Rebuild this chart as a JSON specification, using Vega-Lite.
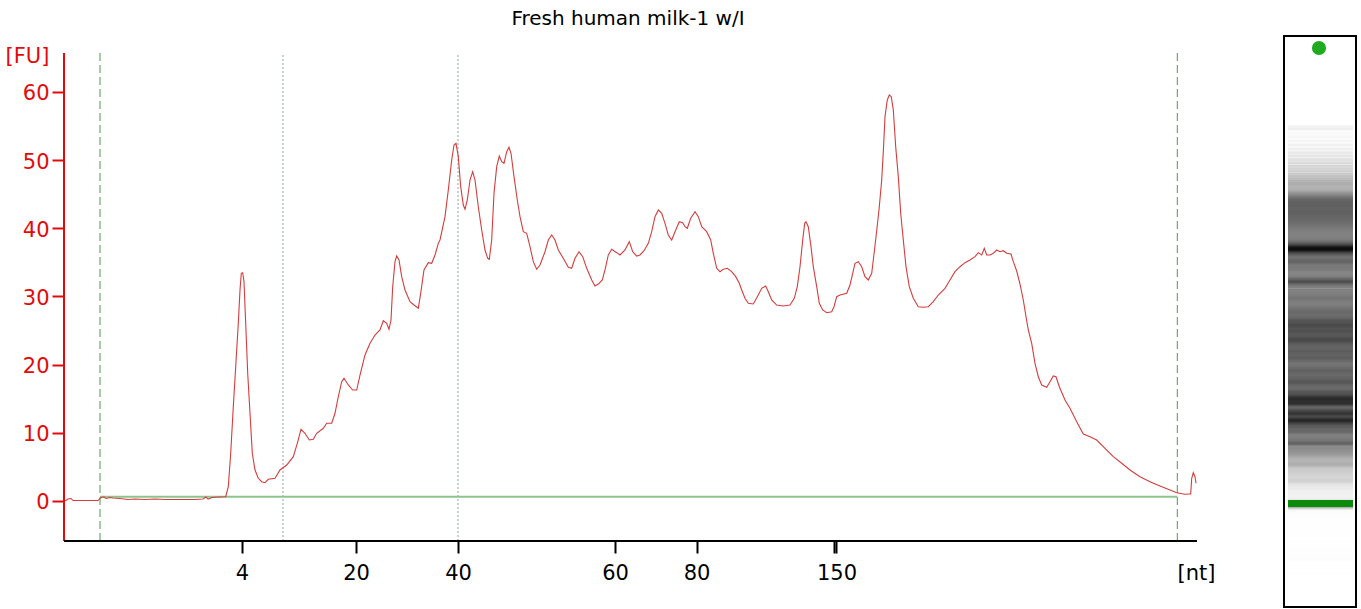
{
  "$schema": "https://vega.github.io/schema/vega-lite/v6.json",
  "padding": {"left": 5, "top": 9, "right": 4, "bottom": 1},
  "background": "white",
  "config": {"view": {"stroke": null}, "font": "DejaVu Sans"},
  "spacing": 87,
  "bounds": "flush",
  "datasets": {
    "trace": [
      {"t":0,"fu":0.07},{"t":2,"fu":0.07},{"t":4,"fu":0.29},{"t":7,"fu":0.37},{"t":9,"fu":0.07},{"t":21,"fu":0.07},{"t":34,"fu":0.07},{"t":37,"fu":0.51},{"t":40,"fu":0.59},{"t":42,"fu":0.37},{"t":46,"fu":0.51},{"t":49,"fu":0.44},{"t":56,"fu":0.37},{"t":64,"fu":0.22},{"t":71,"fu":0.29},{"t":81,"fu":0.22},{"t":91,"fu":0.29},{"t":101,"fu":0.22},{"t":111,"fu":0.22},{"t":121,"fu":0.22},{"t":131,"fu":0.22},{"t":139,"fu":0.29},{"t":142,"fu":0.59},{"t":144,"fu":0.29},{"t":148,"fu":0.51},{"t":156,"fu":0.59},{"t":161.7,"fu":0.63},
      {"t":164.3,"fu":2.10},{"t":166.7,"fu":7.00},{"t":169.3,"fu":13.83},{"t":171.7,"fu":19.70},{"t":174.3,"fu":26.07},{"t":176,"fu":30.95},{"t":177.3,"fu":33.40},{"t":178.7,"fu":33.49},{"t":180,"fu":32.17},{"t":181.7,"fu":26.07},{"t":183.7,"fu":18.73},{"t":186,"fu":12.87},{"t":188.3,"fu":7.00},{"t":191,"fu":4.55},{"t":194.3,"fu":3.33},{"t":197.7,"fu":2.83},{"t":201,"fu":2.68},{"t":204.3,"fu":3.18},{"t":211,"fu":3.33},{"t":216,"fu":4.55},{"t":222.7,"fu":5.28},{"t":229.3,"fu":6.50},{"t":233.3,"fu":8.46},{"t":237,"fu":10.52},{"t":241,"fu":9.93},{"t":245.3,"fu":8.95},{"t":249.3,"fu":9.05},{"t":252.7,"fu":9.93},{"t":259.3,"fu":10.67},{"t":262.7,"fu":11.40},{"t":267.7,"fu":11.40},{"t":271,"fu":12.87},{"t":274.3,"fu":15.30},{"t":277.7,"fu":17.50},{"t":280,"fu":18.00},{"t":284.3,"fu":17.02},{"t":288.7,"fu":16.28},{"t":292.7,"fu":16.28},{"t":296,"fu":18.48},{"t":301,"fu":21.42},{"t":306,"fu":23.13},{"t":311,"fu":24.35},{"t":316,"fu":25.09},{"t":319.3,"fu":26.45},{"t":322.7,"fu":26.07},{"t":325,"fu":25.19},{"t":327,"fu":26.55},{"t":328.7,"fu":31.44},{"t":331,"fu":35.11},{"t":332.7,"fu":35.94},{"t":335,"fu":35.35},{"t":337.7,"fu":32.91},{"t":341,"fu":30.95},{"t":346,"fu":29.24},{"t":350,"fu":28.75},{"t":354.3,"fu":28.27},{"t":356.7,"fu":30.47},{"t":360,"fu":33.89},{"t":364.3,"fu":34.96},{"t":367.7,"fu":34.87},{"t":371,"fu":36.09},{"t":374.3,"fu":37.80},{"t":376,"fu":38.29},{"t":381,"fu":41.71},{"t":384.3,"fu":45.62},{"t":387.7,"fu":50.02},{"t":390,"fu":52.22},{"t":392,"fu":52.47},{"t":394.3,"fu":50.51},{"t":396.7,"fu":46.11},{"t":399.3,"fu":43.42},{"t":401,"fu":42.79},{"t":403.3,"fu":44.16},{"t":406,"fu":47.09},{"t":408.7,"fu":48.31},{"t":411,"fu":47.09},{"t":414.3,"fu":43.17},{"t":417.7,"fu":39.76},{"t":421,"fu":36.82},{"t":423.7,"fu":35.60},{"t":425.3,"fu":35.46},{"t":427.7,"fu":38.29},{"t":430,"fu":45.14},{"t":432.7,"fu":49.04},{"t":435.3,"fu":50.61},{"t":437.7,"fu":49.78},{"t":440,"fu":49.54},{"t":442.7,"fu":51.24},{"t":445,"fu":51.89},{"t":447,"fu":51.01},{"t":450,"fu":47.58},{"t":453.3,"fu":44.16},{"t":456,"fu":41.71},{"t":459.3,"fu":39.51},{"t":462.7,"fu":39.27},{"t":466,"fu":37.31},{"t":469.3,"fu":35.11},{"t":472.7,"fu":33.99},{"t":476,"fu":34.62},{"t":481,"fu":36.57},{"t":484.3,"fu":38.29},{"t":487.7,"fu":39.02},{"t":491,"fu":38.29},{"t":494.3,"fu":36.82},{"t":499.3,"fu":35.60},{"t":504.3,"fu":34.28},{"t":507.7,"fu":34.14},{"t":511,"fu":35.60},{"t":515,"fu":36.57},{"t":518.7,"fu":35.84},{"t":522.7,"fu":34.14},{"t":527.7,"fu":32.42},{"t":531,"fu":31.54},{"t":534.3,"fu":31.83},{"t":538.3,"fu":32.42},{"t":541,"fu":33.89},{"t":544.3,"fu":36.09},{"t":547.7,"fu":36.92},{"t":552.7,"fu":36.43},{"t":556,"fu":36.09},{"t":561,"fu":36.82},{"t":565.3,"fu":38.04},{"t":568.7,"fu":36.57},{"t":572.7,"fu":35.94},{"t":576,"fu":36.09},{"t":580,"fu":36.72},{"t":584.3,"fu":37.80},{"t":587.7,"fu":39.51},{"t":591,"fu":41.71},{"t":594.3,"fu":42.69},{"t":597.7,"fu":42.21},{"t":601,"fu":40.74},{"t":604.3,"fu":39.02},{"t":607.7,"fu":38.29},{"t":611,"fu":39.51},{"t":615.3,"fu":40.97},{"t":618.7,"fu":40.83},{"t":621,"fu":40.24},{"t":623.3,"fu":40.01},{"t":626.7,"fu":41.47},{"t":631,"fu":42.44},{"t":634.3,"fu":41.71},{"t":637.7,"fu":40.24},{"t":642.7,"fu":39.51},{"t":646.7,"fu":38.29},{"t":649.3,"fu":36.34},{"t":652.7,"fu":34.14},{"t":656,"fu":33.64},{"t":659.3,"fu":33.99},{"t":663.3,"fu":34.14},{"t":667.7,"fu":33.64},{"t":671.7,"fu":32.91},{"t":675.3,"fu":31.94},{"t":677.7,"fu":30.95},{"t":681,"fu":29.74},{"t":684.3,"fu":29.00},{"t":689.3,"fu":28.90},{"t":693.3,"fu":29.97},{"t":697.7,"fu":31.20},{"t":701.7,"fu":31.54},{"t":704.3,"fu":30.70},{"t":707.7,"fu":29.49},{"t":712.7,"fu":28.75},{"t":719.3,"fu":28.61},{"t":726,"fu":28.75},{"t":730.3,"fu":29.74},{"t":733.3,"fu":31.44},{"t":736,"fu":34.37},{"t":738.7,"fu":38.29},{"t":740.7,"fu":40.74},{"t":742,"fu":40.97},{"t":744.3,"fu":40.24},{"t":747,"fu":37.31},{"t":749.3,"fu":34.37},{"t":752.7,"fu":31.44},{"t":755.3,"fu":29.00},{"t":758.7,"fu":28.02},{"t":762.7,"fu":27.62},{"t":767.7,"fu":27.77},{"t":770,"fu":28.50},{"t":772.7,"fu":29.97},{"t":776,"fu":30.22},{"t":782.7,"fu":30.47},{"t":786,"fu":31.69},{"t":788.7,"fu":33.40},{"t":791,"fu":34.87},{"t":794.3,"fu":35.11},{"t":797.7,"fu":34.37},{"t":801,"fu":32.91},{"t":804.3,"fu":32.42},{"t":807.7,"fu":33.40},{"t":809.3,"fu":35.35},{"t":812,"fu":38.77},{"t":815,"fu":42.69},{"t":817.7,"fu":47.09},{"t":819.3,"fu":51.24},{"t":821,"fu":56.38},{"t":823.3,"fu":58.83},{"t":825.3,"fu":59.56},{"t":827.3,"fu":59.31},{"t":829.3,"fu":57.36},{"t":831.7,"fu":51.98},{"t":834.3,"fu":47.58},{"t":836.7,"fu":42.21},{"t":839.3,"fu":38.29},{"t":842,"fu":34.37},{"t":845.3,"fu":31.44},{"t":849.3,"fu":29.74},{"t":854.3,"fu":28.50},{"t":859.3,"fu":28.42},{"t":864.3,"fu":28.50},{"t":869.3,"fu":29.24},{"t":874.3,"fu":30.22},{"t":881,"fu":31.20},{"t":886,"fu":32.42},{"t":891,"fu":33.64},{"t":896,"fu":34.37},{"t":901,"fu":34.96},{"t":906,"fu":35.35},{"t":911,"fu":35.84},{"t":914.3,"fu":36.43},{"t":917.7,"fu":36.09},{"t":920.3,"fu":37.07},{"t":922.7,"fu":36.09},{"t":926,"fu":36.09},{"t":929.3,"fu":36.34},{"t":932.7,"fu":36.82},{"t":936,"fu":36.57},{"t":939.3,"fu":36.72},{"t":942.7,"fu":36.34},{"t":947,"fu":36.23},{"t":949.3,"fu":35.11},{"t":952.7,"fu":33.74},{"t":956,"fu":31.83},{"t":959.3,"fu":29.49},{"t":962,"fu":27.04},{"t":964.3,"fu":25.09},{"t":967.7,"fu":23.13},{"t":971,"fu":20.20},{"t":974.3,"fu":18.23},{"t":977.7,"fu":17.02},{"t":982.7,"fu":16.68},{"t":986,"fu":17.50},{"t":989.3,"fu":18.34},{"t":992,"fu":18.23},{"t":995.3,"fu":16.77},{"t":1001,"fu":14.82},{"t":1006,"fu":13.60},{"t":1012.7,"fu":11.63},{"t":1019.3,"fu":9.83},{"t":1026,"fu":9.43},{"t":1032.7,"fu":8.95},{"t":1041,"fu":7.73},{"t":1049.3,"fu":6.50},{"t":1057.7,"fu":5.53},{"t":1066,"fu":4.55},{"t":1076,"fu":3.56},{"t":1086,"fu":2.83},{"t":1096,"fu":2.20},{"t":1106,"fu":1.61},{"t":1112.7,"fu":1.22},{"t":1121,"fu":0.98},{"t":1125.3,"fu":1.03},{"t":1126.7,"fu":1.03},{"t":1127.7,"fu":3.33},{"t":1129.3,"fu":4.15},{"t":1131,"fu":3.56},{"t":1132,"fu":2.60}
    ]
  },
  "hconcat": [
    {
      "width": 1133,
      "height": 505,
      "title": {"text": "Fresh human milk-1 w/I", "font": "DejaVu Sans", "fontSize": 20, "fontWeight": "normal", "color": "#000000", "anchor": "middle", "dx": -2.5, "offset": 7},
      "layer": [
        {
          "data": {"values": [{}]},
          "mark": {"type": "rule", "color": "#8fa3a3", "strokeDash": [2, 2], "strokeWidth": 1},
          "encoding": {
            "x": {"datum": 219, "type": "quantitative"},
            "y": {"datum": -5.868, "type": "quantitative"},
            "y2": {"datum": 65.72}
          }
        },
        {
          "data": {"values": [{}]},
          "mark": {"type": "rule", "color": "#8fa3a3", "strokeDash": [2, 2], "strokeWidth": 1},
          "encoding": {
            "x": {"datum": 394, "type": "quantitative"},
            "y": {"datum": -5.868, "type": "quantitative"},
            "y2": {"datum": 65.72}
          }
        },
        {
          "data": {"values": [{}]},
          "mark": {"type": "rule", "color": "#4f9a4f", "strokeDash": [8, 4], "strokeWidth": 1},
          "encoding": {
            "x": {"datum": 36, "type": "quantitative"},
            "y": {"datum": -5.868, "type": "quantitative"},
            "y2": {"datum": 65.72}
          }
        },
        {
          "data": {"values": [{}]},
          "mark": {"type": "rule", "color": "#4f9a4f", "strokeDash": [8, 4], "strokeWidth": 1},
          "encoding": {
            "x": {"datum": 1113.3, "type": "quantitative"},
            "y": {"datum": -5.868, "type": "quantitative"},
            "y2": {"datum": 65.72}
          }
        },
        {
          "data": {"values": [{}]},
          "mark": {"type": "rule", "color": "#8cc48c", "strokeWidth": 2},
          "encoding": {
            "x": {"datum": 36, "type": "quantitative"},
            "x2": {"datum": 1113.3},
            "y": {"datum": 0.63, "type": "quantitative"}
          }
        },
        {
          "data": {"name": "trace"},
          "mark": {"type": "line", "color": "#d43d3d", "strokeWidth": 1.1, "interpolate": "linear"},
          "encoding": {
            "x": {
              "field": "t", "type": "quantitative",
              "scale": {"domain": [0, 1133], "nice": false, "zero": false},
              "axis": {
                "values": [178, 292, 394, 551, 632.5, 769.5, 772.5],
                "labelExpr": "datum.value == 178 ? '4' : datum.value == 292 ? '20' : datum.value == 394 ? '40' : datum.value == 551 ? '60' : datum.value == 632.5 ? '80' : datum.value == 772.5 ? '150' : ''",
                "domain": false, "grid": false,
                "tickColor": "#000000", "tickWidth": 2, "tickSize": 12,
                "labelColor": "#000000", "labelFont": "DejaVu Sans", "labelFontSize": 21, "labelPadding": 9,
                "labelOverlap": false, "labelFlush": false,
                "title": "[nt]", "titleX": 1132, "titleY": 21, "titleBaseline": "top", "titleAlign": "center",
                "titleFont": "DejaVu Sans", "titleFontSize": 21, "titleFontWeight": "normal", "titleColor": "#000000"
              }
            },
            "y": {
              "field": "fu", "type": "quantitative",
              "scale": {"domain": [-5.868, 68.215], "nice": false, "zero": false},
              "axis": {
                "values": [0, 10, 20, 30, 40, 50, 60],
                "grid": false, "domain": false,
                "tickColor": "#e30a0a", "tickWidth": 2, "tickSize": 12,
                "labelColor": "#e30a0a", "labelFont": "DejaVu Sans", "labelFontSize": 21, "labelPadding": 3, "labelOffset": 2,
                "title": "[FU]", "titleAngle": 0, "titleX": -37, "titleY": 20, "titleAlign": "center", "titleBaseline": "middle",
                "titleFont": "DejaVu Sans", "titleFontSize": 21, "titleFontWeight": "normal", "titleColor": "#e30a0a"
              }
            }
          }
        },
        {
          "data": {"values": [{}]},
          "mark": {"type": "rule", "color": "#e30a0a", "strokeWidth": 2},
          "encoding": {
            "x": {"datum": 0, "type": "quantitative"},
            "y": {"datum": -5.868, "type": "quantitative"},
            "y2": {"datum": 65.72}
          }
        },
        {
          "data": {"values": [{}]},
          "mark": {"type": "rule", "color": "#000000", "strokeWidth": 2},
          "encoding": {
            "x": {"datum": 0, "type": "quantitative"},
            "x2": {"datum": 1133},
            "y": {"datum": -5.868, "type": "quantitative"}
          }
        }
      ]
    },
    {
      "width": 72,
      "height": 571,
      "view": {"stroke": "#000000", "strokeWidth": 2, "fill": "#ffffff"},
      "layer": [
        {
          "data": {"name": "trace"},
          "mark": {"type": "rule", "strokeWidth": 3},
          "encoding": {
            "x": {"datum": 4, "type": "quantitative", "scale": {"domain": [0, 72], "nice": false, "zero": false}, "axis": null},
            "x2": {"datum": 69},
            "y": {"field": "t", "type": "quantitative", "scale": {"domain": [-84.1, 1361.9], "nice": false, "zero": false}, "axis": null},
            "color": {"field": "fu", "type": "quantitative", "scale": {"domain": [0, 62], "range": ["#ffffff", "#000000"], "clamp": true}, "legend": null}
          }
        },
        {
          "data": {"values": [{}]},
          "mark": {"type": "rect", "fill": "#0b8a0b"},
          "encoding": {
            "x": {"datum": 4, "type": "quantitative", "axis": null},
            "x2": {"datum": 69},
            "y": {"datum": 169, "type": "quantitative", "axis": null},
            "y2": {"datum": 187}
          }
        },
        {
          "data": {"values": [{}]},
          "mark": {"type": "point", "filled": true, "color": "#1faa1f", "size": 200, "opacity": 1},
          "encoding": {
            "x": {"datum": 35, "type": "quantitative", "axis": null},
            "y": {"datum": 1331.5, "type": "quantitative", "axis": null}
          }
        }
      ]
    }
  ]
}
